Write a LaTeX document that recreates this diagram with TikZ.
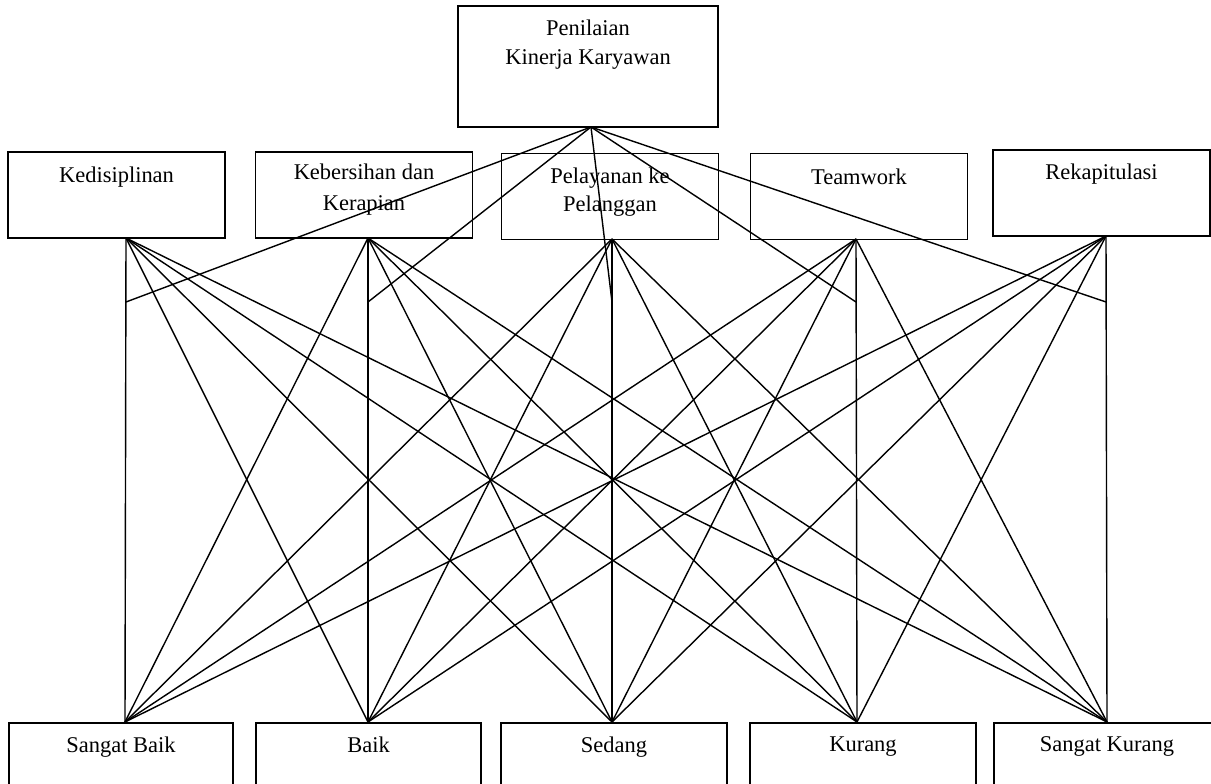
\documentclass[tikz,border=0pt]{standalone}
\usepackage{fontspec}
\setmainfont{Liberation Serif}
\begin{document}
\begin{tikzpicture}[x=0.02cm,y=-0.02cm,
        kotak/.style={draw, line width=0.9pt, inner sep=0pt, minimum width=4.34cm, minimum height=1.72cm},
        judul/.style={anchor=north, inner sep=0pt, align=center, yshift=-0.29cm,
            font=\fontsize{12.8pt}{16.2pt}\selectfont},
        garis/.style={line width=0.8pt}]
        \clip (0,0) rectangle (1211,784);
        % kotak utama
        \node[kotak, minimum width=5.2cm, minimum height=2.42cm] (utama) at (588,66.5) {};
        \node[judul] (tutama) at (utama.north) {Penilaian\\Kinerja Karyawan};
        % kriteria
        \node[kotak] (c1) at (116.5,195) {};
        \node[kotak] (c2) at (364,195) {};
        \node[kotak] (c3) at (610,196.5) {};
        \node[kotak] (c4) at (859,196.5) {};
        \node[kotak] (c5) at (1101.5,193) {};
        \node[judul, yshift=-0.02cm] (tc1) at (c1.north) {Kedisiplinan};
        \node[judul, yshift=0.04cm, font=\fontsize{12.8pt}{17.4pt}\selectfont] (tc2) at (c2.north) {Kebersihan dan\\Kerapian};
        \node[judul] (tc3) at (c3.north) {Pelayanan ke\\Pelanggan};
        \node[judul, yshift=-0.02cm] (tc4) at (c4.north) {Teamwork};
        \node[judul] (tc5) at (c5.north) {Rekapitulasi};
        % nilai
        \node[kotak, minimum width=4.48cm] (b1) at (121,766) {};
        \node[kotak, minimum width=4.5cm] (b2) at (368.5,766) {};
        \node[kotak, minimum width=4.52cm] (b3) at (614,766) {};
        \node[kotak, minimum width=4.52cm] (b4) at (863,766) {};
        \node[kotak, minimum width=4.52cm] (b5) at (1107,766) {};
        \node[judul] (tb1) at (b1.north) {Sangat Baik};
        \node[judul] (tb2) at (b2.north) {Baik};
        \node[judul] (tb3) at (b3.north) {Sedang};
        \node[judul] (tb4) at (b4.north) {Kurang};
        \node[judul] (tb5) at (b5.north) {Sangat Kurang};
        % titik sambung
        \coordinate (p0) at (591,127);
        \coordinate (k1) at (126,238);
        \coordinate (k2) at (368,238);
        \coordinate (k3) at (612,239);
        \coordinate (k4) at (856,239);
        \coordinate (k5) at (1106,236);
        \coordinate (m1) at (126,302);
        \coordinate (m2) at (368,302);
        \coordinate (m3) at (612,302);
        \coordinate (m4) at (856,302);
        \coordinate (m5) at (1106,302);
        \coordinate (n1) at (125,722);
        \coordinate (n2) at (368,722);
        \coordinate (n3) at (612,722);
        \coordinate (n4) at (857,722);
        \coordinate (n5) at (1107,722);
        \foreach \i in {1,...,5} {
            \draw[garis] (p0) -- (m\i);
            \foreach \j in {1,...,5}
                \draw[garis] (k\i) -- (n\j);
        }
\end{tikzpicture}
\end{document}
